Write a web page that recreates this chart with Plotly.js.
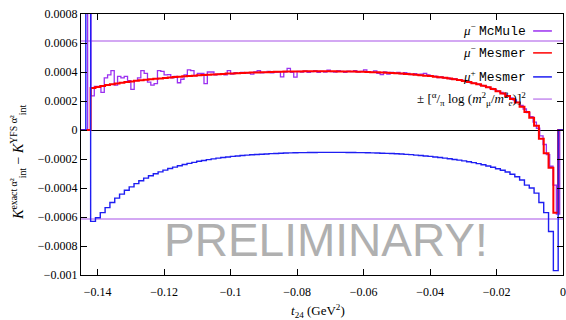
<!DOCTYPE html>
<html>
<head>
<meta charset="utf-8">
<script src="https://cdn.plot.ly/plotly-3.0.1.min.js"></script>
<style>html,body{margin:0;padding:0;background:#fff;}#chart{width:566px;height:320px;}</style>
</head>
<body>
<div id="chart"></div>
<script>
// Histogram binnings (GeV^2)
const mcBinStart = -0.145;
const mcBinWidth = 0.001;      // McMule: 145 bins
const msBinStart = -0.145;
const msBinWidth = 0.00145;    // Mesmer: 100 bins

// mu- McMule
const mcmule = [0, 0, 60e-4, 2.35e-4, 3.0e-4, 3.0e-4, 2.6e-4, 3.6e-4, 3.8e-4, 4.1e-4,
  3.1e-4, 3.7e-4, 3.6e-4, 3.7e-4, 3.4e-4, 2.8e-4, 3.4e-4, 3.6e-4, 4.1e-4, 3.9e-4,
  3.3e-4, 3.1e-4, 3.2e-4, 4.1e-4, 4.05e-4, 3.8e-4, 3.82e-4, 3.6e-4, 3.7e-4, 3.26e-4,
  3.5e-4, 3.8e-4, 4.14e-4, 4.1e-4, 3.75e-4, 3.9e-4, 3.9e-4, 3.2e-4, 4.0e-4, 4.0e-4,
  3.8e-4, 3.85e-4, 3.88e-4, 3.8e-4, 4.1e-4, 3.85e-4, 3.95e-4, 3.9e-4, 3.97e-4, 3.92e-4,
  3.95e-4, 3.85e-4, 4.0e-4, 4.1e-4, 3.95e-4, 3.98e-4, 4.05e-4, 3.95e-4, 3.98e-4, 4.0e-4,
  3.67e-4, 4.0e-4, 4.25e-4, 3.98e-4, 3.65e-4, 4.05e-4, 4.0e-4, 4.08e-4, 3.98e-4, 4.02e-4,
  4.1e-4, 3.98e-4, 4.05e-4, 4.0e-4, 4.12e-4, 4.02e-4, 4.0e-4, 4.1e-4, 4.05e-4, 3.98e-4,
  4.06e-4, 4.02e-4, 4.1e-4, 4.0e-4, 4.05e-4, 4.15e-4, 4.03e-4, 3.97e-4, 4.08e-4, 3.9e-4,
  3.82e-4, 4.0e-4, 3.85e-4, 3.98e-4, 3.92e-4, 3.98e-4, 3.88e-4, 3.95e-4, 3.9e-4, 3.82e-4,
  3.88e-4, 3.8e-4, 3.85e-4, 3.9e-4, 3.8e-4, 3.7e-4, 3.72e-4, 3.62e-4, 3.66e-4, 3.58e-4,
  3.6e-4, 3.5e-4, 3.55e-4, 3.45e-4, 3.43e-4, 3.36e-4, 3.34e-4, 3.25e-4, 3.23e-4, 3.16e-4,
  3.08e-4, 3.03e-4, 2.95e-4, 2.87e-4, 2.79e-4, 2.7e-4, 2.6e-4, 2.5e-4, 2.37e-4, 2.22e-4,
  2.07e-4, 1.9e-4, 1.7e-4, 1.45e-4, 1.2e-4, 0.92e-4, 0.55e-4, 0.12e-4, -0.4e-4, -1.0e-4,
  -1.7e-4, -2.5e-4, -3.8e-4, -5.8e-4, 0];

// mu- Mesmer
const mesmerMinus = [0, 0, 2.9e-4, 2.97e-4, 3.04e-4, 3.1e-4, 3.16e-4, 3.21e-4, 3.26e-4, 3.31e-4,
  3.35e-4, 3.39e-4, 3.43e-4, 3.47e-4, 3.5e-4, 3.53e-4, 3.56e-4, 3.59e-4, 3.62e-4, 3.65e-4,
  3.67e-4, 3.7e-4, 3.72e-4, 3.75e-4, 3.77e-4, 3.79e-4, 3.81e-4, 3.83e-4, 3.85e-4, 3.87e-4,
  3.89e-4, 3.9e-4, 3.92e-4, 3.93e-4, 3.95e-4, 3.96e-4, 3.97e-4, 3.98e-4, 3.99e-4, 4.0e-4,
  4.01e-4, 4.02e-4, 4.03e-4, 4.03e-4, 4.04e-4, 4.04e-4, 4.05e-4, 4.05e-4, 4.05e-4, 4.05e-4,
  4.05e-4, 4.05e-4, 4.05e-4, 4.04e-4, 4.04e-4, 4.03e-4, 4.03e-4, 4.02e-4, 4.01e-4, 4.0e-4,
  3.99e-4, 3.98e-4, 3.96e-4, 3.95e-4, 3.93e-4, 3.91e-4, 3.89e-4, 3.87e-4, 3.84e-4, 3.81e-4,
  3.78e-4, 3.75e-4, 3.72e-4, 3.68e-4, 3.64e-4, 3.6e-4, 3.55e-4, 3.5e-4, 3.44e-4, 3.38e-4,
  3.31e-4, 3.23e-4, 3.15e-4, 3.05e-4, 2.94e-4, 2.82e-4, 2.68e-4, 2.52e-4, 2.34e-4, 2.13e-4,
  1.9e-4, 1.6e-4, 1.25e-4, 0.85e-4, 0.3e-4, -0.6e-4, -1.6e-4, -2.6e-4, -5.7e-4, 0];

// mu+ Mesmer
const mesmerPlus = [0, 60e-4, -6.3e-4, -6.05e-4, -5.7e-4, -5.35e-4, -5.0e-4, -4.7e-4, -4.42e-4, -4.15e-4,
  -3.92e-4, -3.7e-4, -3.5e-4, -3.32e-4, -3.16e-4, -3.02e-4, -2.89e-4, -2.77e-4, -2.66e-4, -2.56e-4,
  -2.47e-4, -2.38e-4, -2.3e-4, -2.23e-4, -2.16e-4, -2.1e-4, -2.04e-4, -1.99e-4, -1.94e-4, -1.9e-4,
  -1.86e-4, -1.82e-4, -1.79e-4, -1.76e-4, -1.73e-4, -1.71e-4, -1.69e-4, -1.67e-4, -1.65e-4, -1.63e-4,
  -1.62e-4, -1.6e-4, -1.59e-4, -1.58e-4, -1.57e-4, -1.56e-4, -1.56e-4, -1.55e-4, -1.55e-4, -1.54e-4,
  -1.54e-4, -1.54e-4, -1.54e-4, -1.54e-4, -1.54e-4, -1.55e-4, -1.55e-4, -1.56e-4, -1.56e-4, -1.57e-4,
  -1.58e-4, -1.59e-4, -1.6e-4, -1.61e-4, -1.62e-4, -1.64e-4, -1.66e-4, -1.68e-4, -1.7e-4, -1.73e-4,
  -1.76e-4, -1.79e-4, -1.82e-4, -1.86e-4, -1.9e-4, -1.94e-4, -1.98e-4, -2.03e-4, -2.08e-4, -2.13e-4,
  -2.19e-4, -2.25e-4, -2.32e-4, -2.4e-4, -2.48e-4, -2.57e-4, -2.67e-4, -2.78e-4, -2.9e-4, -3.05e-4,
  -3.22e-4, -3.45e-4, -3.8e-4, -4.0e-4, -4.35e-4, -5.0e-4, -5.7e-4, -7.0e-4, -9.7e-4, 0];

// ±[α/π log(mμ²/me²)]²
const bandValue = 6.13e-4;

// Axis ticks
const xTickVals = [-0.14, -0.12, -0.1, -0.08, -0.06, -0.04, -0.02, 0];
const xTickText = ['\u22120.14', '\u22120.12', '\u22120.1', '\u22120.08', '\u22120.06', '\u22120.04', '\u22120.02', '0'];
const yTickVals = [-0.001, -0.0008, -0.0006, -0.0004, -0.0002, 0, 0.0002, 0.0004, 0.0006, 0.0008];
const yTickText = ['\u22120.001', '\u22120.0008', '\u22120.0006', '\u22120.0004', '\u22120.0002', '0', '0.0002', '0.0004', '0.0006', '0.0008'];

const edgesOf = (vals, start, w) => vals.map((_, i) => start + i * w).concat([start + vals.length * w]);
const stepY = v => v.concat([v[v.length - 1]]);
const xEnds = [msBinStart, msBinStart + mesmerPlus.length * msBinWidth];

const cMcMule = '#9b30f0', cRed = '#ff0000', cBlue = '#1e1ef2', cBand = '#c58bef';
const serif = 'Liberation Serif, Times New Roman, serif';

const traces = [
  {x: xEnds, y: [bandValue, bandValue], mode: 'lines', line: {color: cBand, width: 1.5}, hoverinfo: 'skip'},
  {x: xEnds, y: [-bandValue, -bandValue], mode: 'lines', line: {color: cBand, width: 1.5}, hoverinfo: 'skip'},
  {x: edgesOf(mcmule, mcBinStart, mcBinWidth), y: stepY(mcmule), mode: 'lines', line: {color: cMcMule, width: 1.3, shape: 'hv'}},
  {x: edgesOf(mesmerMinus, msBinStart, msBinWidth), y: stepY(mesmerMinus), mode: 'lines', line: {color: cRed, width: 2, shape: 'hv'}},
  {x: edgesOf(mesmerPlus, msBinStart, msBinWidth), y: stepY(mesmerPlus), mode: 'lines', line: {color: cBlue, width: 1.4, shape: 'hv'}}
];

const mono = "font-family:Liberation Mono, DejaVu Sans Mono, monospace";
const legendRows = [
  {t: "<i>\u03bc</i><sup>\u2212</sup> <span style='" + mono + "'>McMule</span>", y: 0.935, c: cMcMule},
  {t: "<i>\u03bc</i><sup>\u2212</sup> <span style='" + mono + "'>Mesmer</span>", y: 0.851, c: cRed},
  {t: "<i>\u03bc</i><sup>+</sup> <span style='" + mono + "'>Mesmer</span>", y: 0.759, c: cBlue},
  {t: "\u00b1 [<sup>\u03b1</sup>/<sub>\u03c0</sub> log (<i>m</i><sup>2</sup><sub>\u03bc</sub>/<i>m</i><sup>2</sup><sub><i>e</i></sub>)]<sup>2</sup>", y: 0.674, c: cBand}
];

const annotations = legendRows.map(r => ({
  xref: 'paper', yref: 'paper', x: 0.927, y: r.y, xanchor: 'right', yanchor: 'middle',
  text: r.t, showarrow: false, font: {family: serif, size: 13, color: '#000'}
}));
annotations.push({
  xref: 'paper', yref: 'paper', x: 0.508, y: 0.134, xanchor: 'center', yanchor: 'middle',
  text: 'PRELIMINARY!', showarrow: false,
  font: {family: 'Liberation Sans, Arial, sans-serif', size: 46, color: '#b0b0b0'}
});
annotations.push({
  xref: 'paper', yref: 'paper', x: -0.131, y: 0.433, xanchor: 'center', yanchor: 'middle',
  textangle: -90, showarrow: false,
  text: '<i>K</i><sup>exact \u03b1\u00b2</sup><sub>int</sub> \u2212 <i>K</i><sup>YFS \u03b1\u00b2</sup><sub>int</sub>',
  font: {family: serif, size: 14, color: '#000'}
});
annotations.push({
  xref: 'paper', yref: 'paper', x: 0.492, y: -0.138, xanchor: 'center', yanchor: 'middle',
  showarrow: false, text: '<i>t</i><sub>24</sub> (GeV<sup>2</sup>)',
  font: {family: serif, size: 13, color: '#000'}
});

const shapes = legendRows.map(r => ({
  type: 'line', xref: 'paper', yref: 'paper', x0: 0.938, x1: 0.977, y0: r.y, y1: r.y,
  line: {color: r.c, width: 1.5}
}));

const axisCommon = {
  showgrid: false, showline: true, linecolor: '#000', linewidth: 1, mirror: 'ticks',
  ticks: 'inside', ticklen: 6, tickcolor: '#000', tickwidth: 1,
  tickfont: {family: serif, size: 12, color: '#000'}, tickmode: 'array'
};

const layout = {
  width: 566, height: 320,
  margin: {l: 81, r: 3, t: 14, b: 45},
  paper_bgcolor: '#fff', plot_bgcolor: '#fff',
  showlegend: false,
  xaxis: Object.assign({}, axisCommon, {range: [-0.145, 0], tickvals: xTickVals, ticktext: xTickText,
    zeroline: false, ticklabelstandoff: 6}),
  yaxis: Object.assign({}, axisCommon, {range: [-0.001, 0.0008], tickvals: yTickVals, ticktext: yTickText,
    zeroline: true, zerolinecolor: '#000', zerolinewidth: 1}),
  annotations: annotations,
  shapes: shapes
};

Plotly.newPlot('chart', traces, layout, {staticPlot: true, displayModeBar: false});
</script>
</body>
</html>
